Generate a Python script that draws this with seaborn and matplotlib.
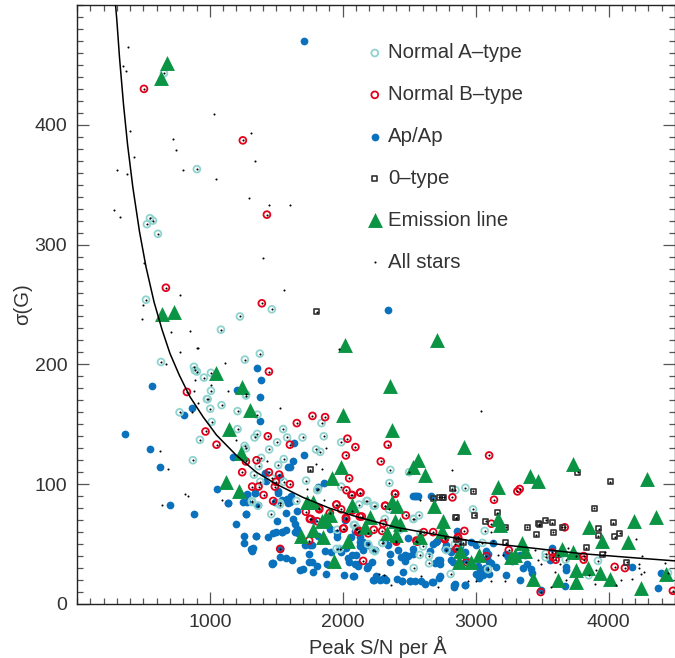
import pandas as pd
import seaborn as sns
import matplotlib.pyplot as plt
from matplotlib.ticker import MultipleLocator

sns.set_style("ticks")
plt.rcParams["font.family"] = ["Liberation Sans", "DejaVu Sans"]

# (peak S/N, sigma)
normal_a = [(654,443),(902,363),(549,322),(571,320),(526,317),(609,309),(519,254),(1226,240),(1466,246),(1083,229),
    (1376,209),(1263,204),(632,202),(880,198),(887,195),(902,194),(955,189),(1008,193),(1008,178),(1271,174),(977,171),
    (983,171),(1088,166),(1003,163),(772,160),(1273,175),(1208,161),(1358,158),(1013,152),(1208,146),(925,137),(1336,139),
    (1356,142),(1261,132),(1271,130),(872,120),(1551,146),(1506,135),(1581,139),(1697,139),(1857,140),(1840,151),(1446,129),
    (1799,129),(1830,127),(1386,122),(1556,121),(1514,116),(1366,115),(1724,103),(1812,96),(1379,102),(1331,108),(1466,105),
    (1556,102),(1318,85),(1361,82),(1652,86),(1526,83),(1316,86),(1462,75),(1529,84),(1808,95),(1953,46),(1958,62),(2091,66),
    (2103,63),(2178,86),(2123,83),(2233,82),(2346,79),(2534,71),(2574,74),(2429,62),(2083,66),(2108,63),(2241,44),(2191,50),
    (2299,51),(2584,59),(2579,41),(2649,40),(2649,34),(2534,30),(2812,25),(2980,79),(2604,48),(2228,45),(2880,50),(2767,56),
    (2848,95),(2923,97),(3068,61),(3051,51),(2843,50),(3527,42),(3527,39),(3677,37),(3920,36),(3850,24),(4447,26),(3093,29),
    (2780,45),(1988,135),(2358,112),(2351,101),(2499,110),(2186,86),(2241,82),(2316,71),(2298,51),(2529,71),(1977,46),(1988,98)]

normal_b = [(504,430),(1248,387),(1429,325),(669,264),(1391,251),(1444,194),(827,177),(967,144),(1050,133),(1436,140),
    (1654,151),(1772,157),(1867,156),(1602,133),(1271,119),(1351,120),(1243,110),(1444,110),(1521,108),(1496,102),(1602,100),
    (1318,98),(1366,98),(1489,98),(1404,91),(1476,86),(1822,80),(1722,77),(1752,71),(1823,79),(1953,83),(2026,71),(2003,63),
    (2116,60),(1529,46),(1747,53),(1808,69),(1903,76),(2128,73),(2028,95),(2071,91),(2073,78),(2133,93),(2394,92),(2321,82),
    (2143,73),(2474,74),(2609,60),(2915,61),(2153,36),(2123,61),(2191,59),(2233,62),(2296,61),(2404,53),(2554,53),(2680,60),
    (2767,54),(2860,46),(2930,35),(2867,56),(2825,89),(2304,67),(3101,124),(3331,96),(3314,94),(3138,87),(3118,67),(3670,64),
    (3249,45),(3577,43),(3602,37),(3582,39),(3813,40),(3813,37),(4046,31),(4123,30),(3489,10),(4484,11),(2768,55),(2868,55),
    (2855,46),(3081,40),(2035,138),(2095,131),(2338,133),(2023,124),(2286,119),(2048,105),(2065,91),(2130,93),(2393,92),
    (2318,82),(2023,72),(1952,83),(1988,79),(2008,63),(2559,52),(2403,52),(1759,71)]

ap_ap = [(1707,470),(1353,197),(1383,187),(564,182),(1203,179),(1376,173),(361,142),(549,129),(624,114),(699,83),(880,75),
    (2338,245),(862,164),(807,158),(1376,153),(1632,134),(1709,124),(1175,123),(1627,119),(1589,114),(1602,114),(1526,106),
    (1411,109),(1421,103),(1050,96),(1140,84),(1283,91),(1341,93),(1509,94),(1862,101),(1815,98),(1251,85),(1541,87),(1489,85),
    (1609,90),(1589,87),(1652,78),(1339,93),(1281,92),(1281,85),(1361,83),(1271,75),(1199,67),(1259,57),(1256,51),(1349,57),
    (1321,47),(1314,44),(1439,56),(1477,59),(1497,60),(1542,60),(1572,62),(1502,69),(1572,76),(1627,71),(1640,67),(1652,63),
    (1527,46),(1527,39),(1572,38),(1620,37),(1477,34),(1464,33),(1697,29),(1775,27),(1745,35),(1765,35),(1808,32),(1747,42),
    (1878,33),(1870,25),(2008,24),(2081,23),(2116,32),(2043,38),(2048,35),(1863,44),(1910,43),(1985,43),(2028,47),(2103,41),
    (1665,59),(1752,49),(1715,49),(1772,49),(1903,63),(1953,56),(1778,70),(1815,57),(1640,60),(1602,85),(1514,93),(1577,88),
    (1590,84),(1990,46),(1958,59),(2091,61),(2016,70),(2061,56),(2542,90),(2567,90),(2662,90),(2128,52),(2128,48),(2153,45),
    (2191,49),(2066,41),(2091,33),(2116,33),(2183,30),(2223,35),(2078,23),(2236,20),(2253,23),(2279,20),(2311,22),(2329,20),
    (2411,21),(2446,19),(2509,19),(2542,19),(2617,17),(2675,18),(2725,22),(2837,16),(2923,16),(2354,35),(2454,27),(2692,34),
    (2717,37),(2730,33),(2416,45),(2441,39),(2466,41),(2492,40),(2529,42),(2316,54),(2341,49),(2354,42),(2492,55),(2705,52),
    (2767,46),(2817,44),(2842,46),(2128,56),(2241,45),(2153,52),(2654,44),(2529,46),(2817,37),(2880,48),(2930,37),(2191,32),
    (2466,36),(2860,61),(2780,49),(2768,46),(2818,43),(2918,43),(3006,49),(3131,51),(2963,52),(2730,37),(2830,35),(2880,34),
    (3018,32),(3068,30),(3031,28),(3056,24),(3026,22),(3006,25),(3101,25),(3101,35),(3118,34),(3156,31),(3076,44),(3093,42),
    (3086,38),(3226,42),(3226,24),(3336,20),(3356,30),(3387,33),(3419,29),(3422,26),(3244,39),(3276,36),(3331,41),(3577,47),
    (3557,37),(3677,31),(3682,28),(3672,15),(3489,12),(4173,31),(4394,26),(4369,13),(2843,17),(2840,14),(2923,16),(2730,23),
    (3369,41),(2679,50),(2709,53),(2529,90),(2554,90),(1138,84),(1271,75),(1346,57),(1539,60),(1313,46),(1469,34),(1677,28),
    (2228,20),(2303,21),(2444,19),(2504,19),(2592,19),(2679,18)]

o_type = [(1804,244),(1757,112),(2680,88),(2725,89),(2760,89),(2855,72),(2993,74),(2855,54),(2905,51),(2823,96),(2750,89),
    (2981,94),(2850,72),(3164,76),(3076,69),(3226,64),(3387,64),(3474,67),(3477,66),(3527,70),(3577,68),(3650,64),(3582,60),
    (3457,58),(3226,51),(3770,110),(4013,102),(3893,80),(4036,68),(3928,63),(3923,57),(4046,56),(4086,59),(3833,47),(3955,41),
    (4138,35),(3757,40),(3620,41)]

emission = [(674,452),(632,439),(638,242),(729,244),(1044,193),(1243,181),(2015,216),(2707,220),(2353,182),(1301,162),(2003,158),
    (1145,146),(2373,145),(1233,126),(2566,120),(2529,114),(1990,114),(2619,108),(1922,105),(1120,102),(1221,94),(1732,85),
    (1777,85),(2073,83),(2373,85),(2409,82),(2687,82),(2203,73),(1865,71),(1907,74),(1840,69),(2393,69),(2429,67),(1777,62),
    (2170,64),(2336,59),(2403,58),(1684,57),(1852,56),(2579,56),(2040,53),(1935,36),(2910,131),(3732,117),(3412,107),(3472,103),
    (4291,104),(3169,98),(4188,69),(4359,73),(3169,71),(3181,66),(2755,69),(2750,61),(3853,64),(3953,53),(4148,52),(3351,51),
    (3652,46),(3732,43),(3369,44),(3294,41),(3269,39),(2880,44),(3026,41),(2875,35),(2968,35),(3757,28),(3845,30),(3938,26),
    (4013,21),(3432,21),(3620,20),(3757,18),(4241,13),(4434,25)]

other_stars = [(383,465),(346,449),(368,445),(398,395),(1030,409),(1308,393),(722,388),(744,379),(429,373),(1338,370),(301,362),
    (376,359),(797,362),(1045,355),(1293,339),(1444,333),(1601,333),(278,329),(323,323),(1398,289),(504,285),(1556,262),(774,258),
    (496,250),(489,238),(707,227),(850,228),(910,214),(902,214),(774,210),(669,200),(1113,201),(887,187),(1008,183),(880,178),
    (1135,178),(1970,213),(3038,161),(2820,112),(910,168),(862,160),(1531,164),(1196,137),(627,128),(1872,130),(1431,119),(1797,117),
    (684,113),(1842,113),(1732,96),(812,92),(837,90),(1088,87),(639,83),(1857,87),(2579,87),(2273,25),(2311,24),(2366,16),(2592,23),
    (2717,14),(3131,53),(3118,60),(3169,41),(3206,41),(3118,19),(3219,19),(3001,19),(2943,19),(3469,37),(3489,33),(3595,27),(3637,33),
    (3570,14),(3695,47),(3908,28),(4058,16),(4176,21),(4208,54),(4254,40),(4226,33),(4226,30),(4264,27),(4246,25),(4422,34),(3971,43),
    (3444,45),(3895,17),(3682,20),(4096,20)]

curve_snr = [290,300,320,350,380,420,470,520,580,640,700,770,850,950,1050,1200,1350,1500,1700,1900,2100,2400,2700,3000,3400,3800,4200,4500]
curve_sigma = [500,487,456,417,384,348,311,281,252,229,209,191,173,156,141,124,110,100,89,80,73,64,58,52,47,42,38.5,36]

COLS = ["snr", "sigma"]
TEXT = "#333333"

df_a = pd.DataFrame(normal_a, columns=COLS)
df_b = pd.DataFrame(normal_b, columns=COLS)
df_ap = pd.DataFrame(ap_ap, columns=COLS)
df_o = pd.DataFrame(o_type, columns=COLS)
df_em = pd.DataFrame(emission, columns=COLS)
# every star has a dot, also the ones inside rings and squares
df_all = pd.concat([df_a, df_b, df_o, pd.DataFrame(other_stars, columns=COLS)])
df_curve = pd.DataFrame({"snr": curve_snr, "sigma": curve_sigma})

fig = plt.figure(figsize=(6.75, 6.58), dpi=100)
ax = fig.add_axes([77 / 675, 1 - 604 / 658, 598 / 675, 599 / 658])

sns.scatterplot(ax=ax, data=df_ap, x="snr", y="sigma", s=31, color="#0a72bd", linewidth=0, label="Ap/Ap", zorder=2)
sns.scatterplot(ax=ax, data=df_a, x="snr", y="sigma", s=24, facecolor="none", edgecolor="#8fd3d0", linewidth=1.3,
                label="Normal A–type", zorder=3)
sns.scatterplot(ax=ax, data=df_b, x="snr", y="sigma", s=24, facecolor="none", edgecolor="#e2001a", linewidth=1.3,
                label="Normal B–type", zorder=4)
sns.scatterplot(ax=ax, data=df_o, x="snr", y="sigma", s=13, marker="s", facecolor="none", edgecolor="#333333", linewidth=1.2,
                label="0–type", zorder=4)
sns.scatterplot(ax=ax, data=df_em, x="snr", y="sigma", s=115, marker="^", color="#0a9444", linewidth=0,
                label="Emission line", zorder=5)
sns.scatterplot(ax=ax, data=df_all, x="snr", y="sigma", s=2.2, color="black", linewidth=0, label="All stars", zorder=6)
sns.lineplot(ax=ax, data=df_curve, x="snr", y="sigma", color="black", linewidth=1.1, zorder=7)

ax.set_xlim(0, 4500)
ax.set_ylim(0, 500)
ax.xaxis.set_major_locator(MultipleLocator(1000))
ax.xaxis.set_minor_locator(MultipleLocator(100))
ax.yaxis.set_major_locator(MultipleLocator(100))
ax.yaxis.set_minor_locator(MultipleLocator(10))
ax.tick_params(which="major", direction="in", length=8.5, width=0.9, color="#555555", top=True, right=True,
               labelsize=14, labelcolor=TEXT, pad=7)
ax.tick_params(which="minor", direction="in", length=4.3, width=0.9, color="#555555", top=True, right=True)
ax.set_xticks([1000, 2000, 3000, 4000])
ax.set_yticks([0, 100, 200, 300, 400])
ax.set_xlabel("Peak S/N per Å", fontsize=14.4, color=TEXT, labelpad=4, x=0.503)
ax.set_ylabel("σ(G)", fontsize=14.6, color=TEXT, labelpad=2)
for s in ax.spines.values():
    s.set_linewidth(1.0)
    s.set_color("#222222")

handles, labels = ax.get_legend_handles_labels()
order = ["Normal A–type", "Normal B–type", "Ap/Ap", "0–type", "Emission line", "All stars"]
by_label = dict(zip(labels, handles))
leg = ax.legend([by_label[k] for k in order], order, loc="upper left", bbox_to_anchor=(0.457, 0.953), frameon=False,
                fontsize=14.7, labelspacing=1.12, handletextpad=-0.05, borderpad=0, handlelength=1.4, labelcolor=TEXT)
leg.set_zorder(10)

fig.savefig("out.png", dpi=100)
